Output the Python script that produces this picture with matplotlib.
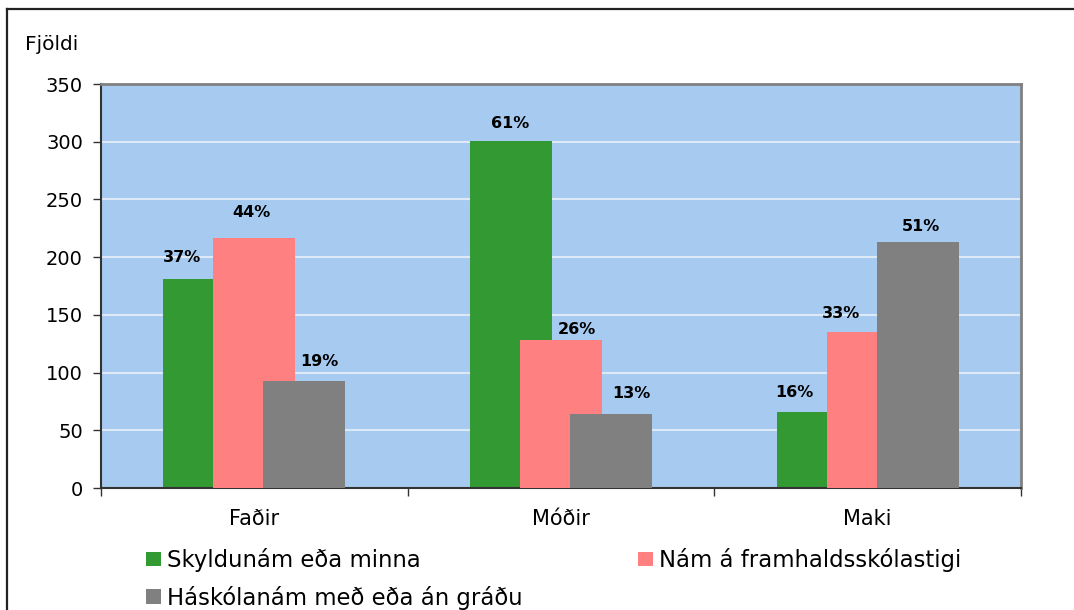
import matplotlib
matplotlib.use("Agg")
import matplotlib.pyplot as plt
from matplotlib.lines import Line2D
import numpy as np

categories = ["Faðir", "Móðir", "Maki"]
series_names = ["Skyldunám eða minna", "Nám á framhaldsskólastigi", "Háskólanám með eða án gráðu"]
skyldunam = [181, 301, 66]
framhald = [217, 128, 135]
haskoli = [93, 64, 213]
pct_skyldunam = ["37%", "61%", "16%"]
pct_framhald = ["44%", "26%", "33%"]
pct_haskoli = ["19%", "13%", "51%"]
yticks = [0, 50, 100, 150, 200, 250, 300, 350]
ylabel = "Fjöldi"

colors = ["#339933", "#FF8080", "#808080"]
values = [skyldunam, framhald, haskoli]
pcts = [pct_skyldunam, pct_framhald, pct_haskoli]
# label offsets (pixels) relative to bar top centre, mimicking the original placement
label_dx = [[-22, -1, -23], [-3, 16, -27], [15, 20, 3]]
label_dy = [[22, 17, 19], [25, 11, 19], [19, 21, 16]]

W, H = 1074, 610
fig = plt.figure(figsize=(W / 100, H / 100), dpi=100)
ax = fig.add_axes([101 / W, 1 - 488 / H, (1021 - 101) / W, (488 - 84) / H])
ax.set_facecolor("#A6CAF0")

x = np.arange(len(categories))
width = 0.267
offset = 0.163
handles = []
for j, (vals, col) in enumerate(zip(values, colors)):
    pos = x + (j - 1) * offset
    b = ax.bar(pos, vals, width=width, color=col, zorder=2 + j, linewidth=0)
    handles.append(b)
    for i, (p, v) in enumerate(zip(pos, vals)):
        ax.annotate(pcts[j][i], (p, v), xytext=(label_dx[j][i], label_dy[j][i]),
                    textcoords="offset pixels", ha="center", va="center",
                    fontsize=11.5, fontweight="bold", color="black", zorder=10)

ax.set_xlim(-0.5, len(categories) - 0.5)
ax.set_ylim(0, 350)
ax.set_yticks(yticks)
ax.set_yticklabels([str(t) for t in yticks], fontsize=14)
ax.yaxis.grid(True, color="#DDE9F7", linewidth=1.5, zorder=1)
ax.set_axisbelow(True)
ax.set_xticks(np.arange(-0.5, len(categories), 1.0))
ax.set_xticklabels([])
ax.set_xticks(x, minor=True)
ax.set_xticklabels(categories, minor=True, fontsize=15)
ax.tick_params(axis="x", which="minor", length=0, pad=15)
ax.tick_params(axis="x", which="major", length=6, width=1, color="#333333", direction="out")
ax.tick_params(axis="y", length=6, width=1, color="#333333", direction="out", pad=7)

for s in ["top", "right"]:
    ax.spines[s].set_color("#808080")
    ax.spines[s].set_linewidth(2)
for s in ["left", "bottom"]:
    ax.spines[s].set_color("#333333")
    ax.spines[s].set_linewidth(1.5)

fig.text(25 / W, 1 - 45 / H, ylabel, fontsize=14.5, ha="left", va="center")

# outer chart border (extends beyond right/bottom edge)
fig.add_artist(Line2D([7 / W, 7 / W], [1 - 9 / H, -0.1], color="#222222", linewidth=1.6,
                      transform=fig.transFigure))
fig.add_artist(Line2D([7 / W, 1.1], [1 - 9 / H, 1 - 9 / H], color="#222222", linewidth=1.6,
                      transform=fig.transFigure))

order = [0, 2, 1]
leg = fig.legend([handles[k] for k in order], [series_names[k] for k in order],
                 loc="upper left", bbox_to_anchor=(146 / W, 1 - 548 / H), ncol=2,
                 frameon=False, fontsize=16.4, handlelength=0.66, handleheight=0.62,
                 handletextpad=0.27, columnspacing=5.05, labelspacing=0.6,
                 borderaxespad=0, borderpad=0)

fig.savefig("out.png", dpi=100)
